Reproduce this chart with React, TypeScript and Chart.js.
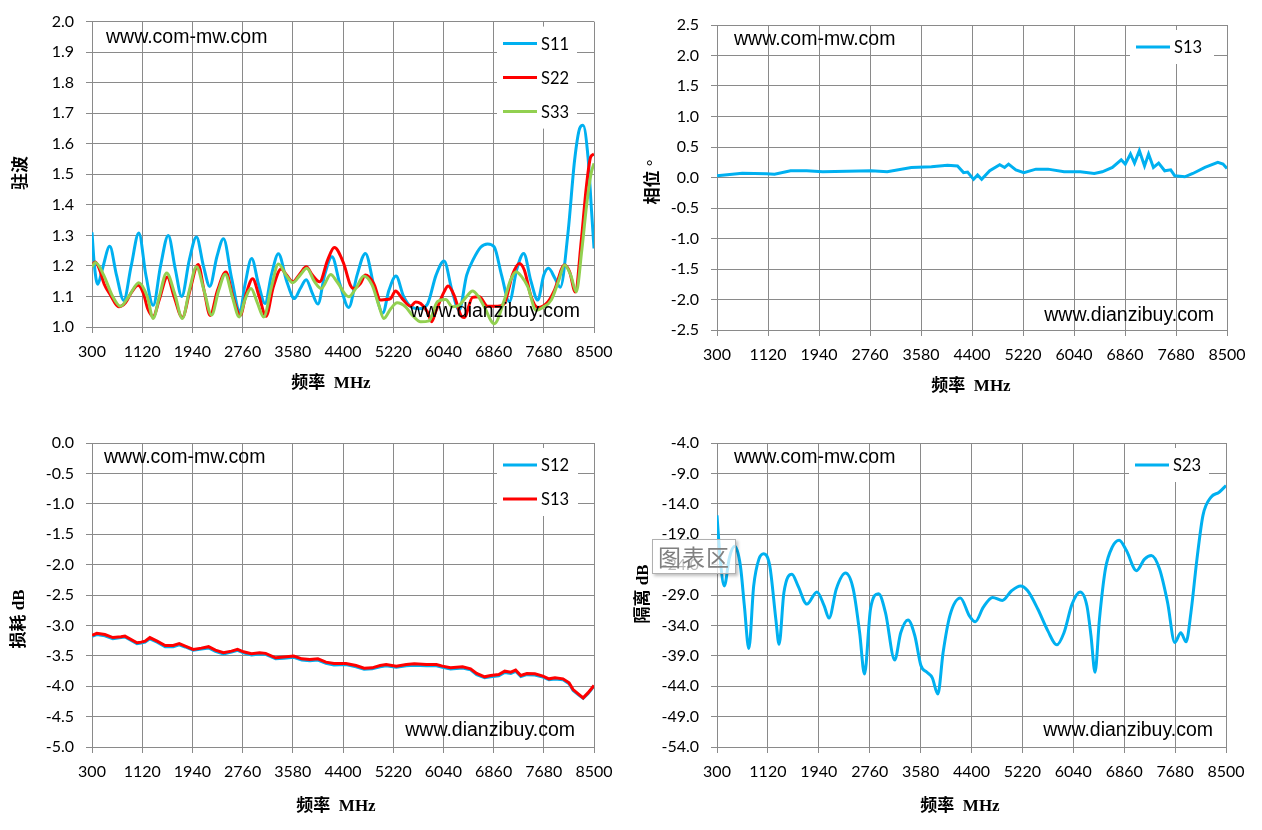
import React, { useEffect, useRef } from 'react';
import Chart from 'chart.js/auto';

const BLUE = '#00B0F0';
const RED = '#FF0000';
const GREEN = '#92D050';
const GRID = '#8a8a8a';

// axis ticks
const freqTicks = [300, 1120, 1940, 2760, 3580, 4400, 5220, 6040, 6860, 7680, 8500];
const vswrTicks = [1.0, 1.1, 1.2, 1.3, 1.4, 1.5, 1.6, 1.7, 1.8, 1.9, 2.0];
const phaseTicks = [-2.5, -2.0, -1.5, -1.0, -0.5, 0.0, 0.5, 1.0, 1.5, 2.0, 2.5];
const lossTicks = [-5.0, -4.5, -4.0, -3.5, -3.0, -2.5, -2.0, -1.5, -1.0, -0.5, 0.0];
const isoTicks = [-54, -49, -44, -39, -34, -29, -24, -19, -14, -9, -4];

// VSWR (top left)
const s11Freq = [300, 340, 393, 470, 590, 700, 819, 940, 1065, 1180, 1300, 1420, 1546, 1660, 1765, 1890, 2006, 2120, 2224, 2340, 2448, 2580, 2716, 2800, 2908, 3020, 3126, 3230, 3345, 3480, 3607, 3700, 3799, 3900, 3990, 4100, 4220, 4350, 4493, 4630, 4766, 4910, 5050, 5150, 5265, 5390, 5510, 5640, 5780, 5920, 6051, 6180, 6297, 6420, 6530, 6652, 6762, 6870, 6990, 7117, 7240, 7352, 7470, 7582, 7680, 7757, 7860, 7950, 8074, 8183, 8265, 8320, 8402, 8460, 8500];
const s11Vswr = [1.31, 1.2, 1.14, 1.19, 1.264, 1.17, 1.087, 1.2, 1.308, 1.17, 1.071, 1.2, 1.3, 1.19, 1.1, 1.22, 1.295, 1.2, 1.133, 1.23, 1.289, 1.16, 1.05, 1.14, 1.224, 1.14, 1.077, 1.17, 1.24, 1.15, 1.093, 1.125, 1.155, 1.11, 1.075, 1.17, 1.23, 1.14, 1.064, 1.17, 1.241, 1.13, 1.046, 1.12, 1.167, 1.1, 1.066, 1.06, 1.075, 1.17, 1.216, 1.12, 1.055, 1.17, 1.222, 1.262, 1.272, 1.262, 1.17, 1.083, 1.19, 1.241, 1.15, 1.088, 1.17, 1.192, 1.16, 1.13, 1.306, 1.546, 1.65, 1.661, 1.557, 1.38, 1.257];

const s22Freq = [300, 355, 420, 500, 600, 737, 850, 950, 1054, 1140, 1210, 1300, 1400, 1530, 1640, 1776, 1900, 2033, 2130, 2230, 2350, 2487, 2600, 2722, 2820, 2924, 3030, 3143, 3260, 3389, 3480, 3580, 3700, 3799, 3900, 4018, 4150, 4258, 4411, 4520, 4575, 4684, 4766, 4903, 5012, 5094, 5176, 5258, 5367, 5504, 5586, 5668, 5778, 5849, 5914, 6051, 6117, 6215, 6324, 6379, 6516, 6625, 6762, 6926, 7035, 7172, 7281, 7363, 7473, 7582, 7746, 7855, 8019, 8101, 8194, 8293, 8375, 8446, 8500];
const s22Vswr = [1.202, 1.213, 1.19, 1.14, 1.105, 1.066, 1.08, 1.115, 1.137, 1.11, 1.06, 1.035, 1.09, 1.164, 1.1, 1.031, 1.12, 1.205, 1.12, 1.038, 1.12, 1.18, 1.1, 1.038, 1.11, 1.158, 1.1, 1.035, 1.13, 1.19, 1.17, 1.148, 1.175, 1.197, 1.17, 1.148, 1.22, 1.26, 1.208, 1.137, 1.126, 1.142, 1.17, 1.142, 1.088, 1.09, 1.093, 1.118, 1.093, 1.068, 1.082, 1.077, 1.05, 1.017, 1.05, 1.115, 1.134, 1.104, 1.039, 1.031, 1.097, 1.099, 1.068, 1.068, 1.077, 1.173, 1.208, 1.186, 1.099, 1.064, 1.082, 1.121, 1.203, 1.181, 1.115, 1.284, 1.459, 1.557, 1.566];

const s33Freq = [300, 355, 491, 628, 765, 900, 1065, 1202, 1300, 1400, 1519, 1650, 1776, 1890, 2006, 2130, 2252, 2370, 2476, 2590, 2705, 2800, 2897, 3000, 3105, 3230, 3345, 3470, 3580, 3700, 3810, 3930, 4045, 4200, 4302, 4493, 4620, 4739, 4876, 4985, 5067, 5180, 5285, 5422, 5532, 5668, 5805, 5942, 6078, 6188, 6297, 6420, 6516, 6610, 6707, 6871, 7035, 7130, 7227, 7318, 7418, 7555, 7664, 7801, 7920, 8019, 8120, 8210, 8300, 8380, 8450, 8500];
const s33Vswr = [1.197, 1.211, 1.17, 1.104, 1.068, 1.1, 1.145, 1.1, 1.028, 1.1, 1.177, 1.11, 1.028, 1.12, 1.197, 1.12, 1.039, 1.12, 1.173, 1.1, 1.033, 1.09, 1.126, 1.08, 1.033, 1.13, 1.206, 1.17, 1.145, 1.17, 1.192, 1.15, 1.126, 1.172, 1.148, 1.099, 1.13, 1.167, 1.137, 1.071, 1.028, 1.06, 1.079, 1.066, 1.039, 1.017, 1.02, 1.083, 1.09, 1.066, 1.071, 1.1, 1.118, 1.1, 1.066, 1.011, 1.088, 1.15, 1.181, 1.165, 1.132, 1.055, 1.064, 1.088, 1.15, 1.203, 1.17, 1.115, 1.25, 1.4, 1.5, 1.536];

// phase (top right)
const phaseFreq = [300, 707, 1095, 1225, 1483, 1742, 2001, 2389, 2777, 3036, 3424, 3747, 4006, 4167, 4264, 4329, 4426, 4490, 4555, 4685, 4846, 4924, 4988, 5105, 5234, 5428, 5622, 5881, 6140, 6366, 6495, 6657, 6799, 6864, 6948, 7013, 7091, 7174, 7239, 7317, 7401, 7498, 7595, 7660, 7822, 7951, 8145, 8352, 8436, 8500];
const s13Phase = [0.027, 0.07, 0.06, 0.055, 0.11, 0.11, 0.093, 0.104, 0.11, 0.093, 0.165, 0.176, 0.2, 0.19, 0.08, 0.09, -0.03, 0.04, -0.03, 0.11, 0.21, 0.165, 0.22, 0.126, 0.08, 0.137, 0.137, 0.093, 0.093, 0.066, 0.093, 0.165, 0.29, 0.22, 0.385, 0.236, 0.44, 0.19, 0.385, 0.165, 0.236, 0.11, 0.126, 0.027, 0.011, 0.066, 0.165, 0.247, 0.22, 0.148];

// insertion loss (bottom left)
const lossFreq = [300, 379, 510, 641, 773, 838, 1035, 1101, 1167, 1245, 1364, 1495, 1626, 1725, 1823, 1954, 2086, 2204, 2316, 2447, 2578, 2677, 2775, 2906, 3038, 3136, 3300, 3432, 3596, 3727, 3858, 3990, 4121, 4252, 4449, 4613, 4745, 4876, 5007, 5106, 5270, 5434, 5565, 5762, 5926, 6025, 6156, 6353, 6484, 6583, 6714, 6812, 6944, 7042, 7141, 7220, 7305, 7403, 7534, 7666, 7764, 7863, 7994, 8093, 8159, 8257, 8323, 8401, 8500];
const s12Loss = [-3.18, -3.15, -3.17, -3.22, -3.2, -3.19, -3.3, -3.29, -3.275, -3.22, -3.275, -3.35, -3.35, -3.32, -3.355, -3.41, -3.39, -3.37, -3.425, -3.47, -3.44, -3.41, -3.45, -3.485, -3.47, -3.475, -3.55, -3.54, -3.525, -3.57, -3.58, -3.57, -3.625, -3.65, -3.645, -3.68, -3.72, -3.715, -3.68, -3.665, -3.69, -3.665, -3.655, -3.665, -3.665, -3.69, -3.715, -3.7, -3.73, -3.81, -3.86, -3.845, -3.83, -3.775, -3.79, -3.755, -3.84, -3.81, -3.815, -3.85, -3.895, -3.88, -3.895, -3.96, -4.07, -4.15, -4.2, -4.125, -4.0];
const s13Loss = [-3.165, -3.13, -3.15, -3.2, -3.187, -3.176, -3.286, -3.275, -3.258, -3.2, -3.258, -3.33, -3.33, -3.3, -3.34, -3.395, -3.374, -3.35, -3.407, -3.45, -3.423, -3.395, -3.434, -3.467, -3.45, -3.46, -3.533, -3.52, -3.505, -3.55, -3.56, -3.55, -3.604, -3.626, -3.626, -3.66, -3.703, -3.698, -3.66, -3.643, -3.67, -3.643, -3.632, -3.643, -3.643, -3.67, -3.698, -3.681, -3.714, -3.791, -3.846, -3.824, -3.808, -3.753, -3.769, -3.736, -3.824, -3.791, -3.797, -3.835, -3.879, -3.863, -3.879, -3.945, -4.055, -4.137, -4.192, -4.11, -3.989];

// isolation (bottom right)
const isoFreq = [300, 352, 417, 501, 586, 677, 741, 813, 891, 975, 1053, 1150, 1248, 1300, 1378, 1507, 1605, 1748, 1910, 2027, 2105, 2222, 2371, 2494, 2598, 2676, 2773, 2903, 3014, 3163, 3260, 3377, 3487, 3585, 3682, 3767, 3858, 3942, 4052, 4221, 4364, 4461, 4591, 4740, 4896, 5046, 5189, 5305, 5468, 5630, 5773, 5890, 6020, 6150, 6260, 6325, 6390, 6461, 6558, 6669, 6779, 6896, 7058, 7188, 7298, 7428, 7558, 7675, 7772, 7857, 7935, 8032, 8129, 8259, 8389, 8500];
const s23Iso = [-15.9, -23.1, -27.5, -22.8, -21.0, -24.2, -30.8, -37.8, -27.5, -23.1, -22.2, -24.2, -33.0, -37.1, -28.6, -25.6, -27.5, -30.5, -28.5, -30.8, -32.8, -28.0, -25.4, -28.0, -35.2, -42.0, -31.3, -28.8, -31.9, -39.7, -35.2, -33.1, -35.7, -40.6, -41.7, -42.6, -45.3, -38.5, -32.4, -29.5, -32.4, -33.4, -31.0, -29.4, -29.9, -28.3, -27.5, -28.3, -31.3, -34.9, -37.2, -35.2, -30.5, -28.5, -30.8, -35.7, -41.7, -33.0, -24.7, -21.1, -20.0, -21.7, -25.0, -23.1, -22.5, -24.7, -30.2, -36.8, -35.2, -36.7, -31.9, -23.1, -15.9, -12.9, -12.1, -11.0];

type Series = { label: string; color: string; freq: number[]; values: number[] };

type PanelProps = {
  left: number;
  top: number;
  series: Series[];
  yTicks: number[];
  yTitle: string;
  yWidth: number;
  xHeight: number;
  padTop: number;
  padRight: number;
  tension: number;
  legendW: number;
  xTitleAt: [number, number];
  yTitleAt: [number, number];
  markTop: [number, number];
  markBottom: [number, number];
};

const decor = {
  id: 'decor',
  afterDatasetsDraw(chart: any, _args: any, o: any) {
    const { ctx, chartArea: a } = chart;
    ctx.save();
    ctx.textBaseline = 'middle';

    ctx.fillStyle = '#000';
    ctx.font = '19.5px "Liberation Sans", Arial, sans-serif';
    ctx.textAlign = 'left';
    ctx.fillText('www.com-mw.com', a.left + o.markTop[0], a.top + o.markTop[1]);
    ctx.textAlign = 'right';
    ctx.fillText('www.dianzibuy.com', a.right - o.markBottom[0], a.bottom - o.markBottom[1]);

    // legend
    const ds = chart.data.datasets;
    ctx.fillStyle = '#fff';
    ctx.fillRect(a.right - 97, a.top + 5, o.legendW, ds.length * 34);
    ds.forEach((d: any, i: number) => {
      const y = a.top + 22 + i * 34;
      ctx.strokeStyle = d.borderColor;
      ctx.lineWidth = 3;
      ctx.beginPath();
      ctx.moveTo(a.right - 91, y);
      ctx.lineTo(a.right - 57, y);
      ctx.stroke();
      ctx.fillStyle = '#000';
      ctx.font = '16.5px Lato, sans-serif';
      ctx.textAlign = 'left';
      ctx.fillText(d.label, a.right - 53, y + 1);
    });

    // axis titles
    ctx.fillStyle = '#000';
    ctx.font = 'bold 17px "Liberation Serif", "Noto Sans CJK SC", serif';
    ctx.textAlign = 'center';
    ctx.fillText(o.xTitle, o.xTitleAt[0], o.xTitleAt[1]);
    ctx.translate(o.yTitleAt[0], o.yTitleAt[1]);
    ctx.rotate(-Math.PI / 2);
    ctx.fillText(o.yTitle, 0, 0);
    ctx.restore();
  },
};

function Panel(p: PanelProps) {
  const ref = useRef<HTMLCanvasElement>(null);
  useEffect(() => {
    if (!ref.current) return;
    const n = p.series.length;
    const chart = new Chart(ref.current, {
      type: 'line',
      data: {
        datasets: p.series.map((s, i) => ({
          label: s.label,
          data: s.freq.map((f, k) => ({ x: f, y: s.values[k] })),
          borderColor: s.color,
          backgroundColor: s.color,
          borderWidth: 3,
          pointRadius: 0,
          tension: p.tension,
          cubicInterpolationMode: p.tension > 0 ? 'monotone' : 'default',
          order: n - i,
        })),
      },
      options: {
        responsive: false,
        animation: false,
        events: [],
        layout: { padding: { top: p.padTop, right: p.padRight, left: 0, bottom: 0 } },
        plugins: {
          legend: { display: false },
          tooltip: { enabled: false },
          decor: {
            xTitle: '频率  MHz',
            yTitle: p.yTitle,
            xTitleAt: p.xTitleAt,
            yTitleAt: p.yTitleAt,
            markTop: p.markTop,
            markBottom: p.markBottom,
            legendW: p.legendW,
          },
        } as any,
        scales: {
          x: {
            type: 'linear',
            min: freqTicks[0],
            max: freqTicks[freqTicks.length - 1],
            afterBuildTicks: (s: any) => { s.ticks = freqTicks.map((v) => ({ value: v })); },
            afterFit: (s: any) => { s.height = p.xHeight; },
            ticks: { autoSkip: false, maxRotation: 0, padding: 9, color: '#000', font: { family: 'Lato', size: 16 }, callback: (v: any) => String(v) },
            grid: { color: GRID, tickColor: GRID, tickLength: 6, lineWidth: 1 },
            border: { color: GRID, width: 1 },
          },
          y: {
            type: 'linear',
            min: p.yTicks[0],
            max: p.yTicks[p.yTicks.length - 1],
            afterBuildTicks: (s: any) => { s.ticks = p.yTicks.map((v) => ({ value: v })); },
            afterFit: (s: any) => { s.width = p.yWidth; },
            ticks: { autoSkip: false, padding: 12, color: '#000', font: { family: 'Lato', size: 16 }, callback: (v: any) => Number(v).toFixed(1) },
            grid: { color: GRID, tickColor: GRID, tickLength: 6, lineWidth: 1 },
            border: { color: GRID, width: 1 },
          },
        },
      },
      plugins: [decor],
    } as any);
    let alive = true;
    (document as any).fonts?.load('16px Lato').then(() => { if (alive) chart.update(); });
    return () => { alive = false; chart.destroy(); };
  }, []);
  return (
    <canvas
      ref={ref}
      width={631}
      height={415}
      style={{ position: 'absolute', left: p.left, top: p.top, width: 631, height: 415 }}
    />
  );
}

export default function App() {
  return (
    <div style={{ position: 'absolute', left: 0, top: 0, width: 1262, height: 830, background: '#fff', overflow: 'hidden' }}>
      <Panel
        left={0} top={0}
        series={[
          { label: 'S11', color: BLUE, freq: s11Freq, values: s11Vswr },
          { label: 'S22', color: RED, freq: s22Freq, values: s22Vswr },
          { label: 'S33', color: GREEN, freq: s33Freq, values: s33Vswr },
        ]}
        yTicks={vswrTicks} yTitle="驻波"
        yWidth={92} xHeight={88} padTop={21} padRight={37} tension={0.4} legendW={80}
        xTitleAt={[331, 384]} yTitleAt={[22, 173]} markTop={[14, 16]} markBottom={[14, 15]}
      />
      <Panel
        left={631} top={0}
        series={[{ label: 'S13', color: BLUE, freq: phaseFreq, values: s13Phase }]}
        yTicks={phaseTicks} yTitle="相位 °"
        yWidth={86} xHeight={85} padTop={25} padRight={35} tension={0} legendW={84}
        xTitleAt={[340, 387]} yTitleAt={[23, 182]} markTop={[17, 15]} markBottom={[13, 14]}
      />
      <Panel
        left={0} top={415}
        series={[
          { label: 'S12', color: BLUE, freq: lossFreq, values: s12Loss },
          { label: 'S13', color: RED, freq: lossFreq, values: s13Loss },
        ]}
        yTicks={lossTicks} yTitle="损耗 dB"
        yWidth={92} xHeight={83} padTop={28} padRight={37} tension={0} legendW={81}
        xTitleAt={[336, 392]} yTitleAt={[20, 204]} markTop={[12, 15]} markBottom={[19, 16]}
      />
      <Panel
        left={631} top={415}
        series={[{ label: 'S23', color: BLUE, freq: isoFreq, values: s23Iso }]}
        yTicks={isoTicks} yTitle="隔离 dB"
        yWidth={86} xHeight={83} padTop={28} padRight={36} tension={0.4} legendW={80}
        xTitleAt={[329, 392]} yTitleAt={[13, 179]} markTop={[17, 15]} markBottom={[13, 16]}
      />
      <div
        style={{
          position: 'absolute', left: 652, top: 539, width: 82, height: 33,
          border: '1px solid #b0b0b0', background: 'rgba(255,255,255,0.72)',
          boxShadow: '2px 2px 3px rgba(0,0,0,0.25)', color: '#808080',
          fontFamily: '"Noto Sans CJK SC", sans-serif', fontSize: 23, lineHeight: '33px',
          textAlign: 'center', letterSpacing: 1,
        }}
      >
        图表区
      </div>
    </div>
  );
}
